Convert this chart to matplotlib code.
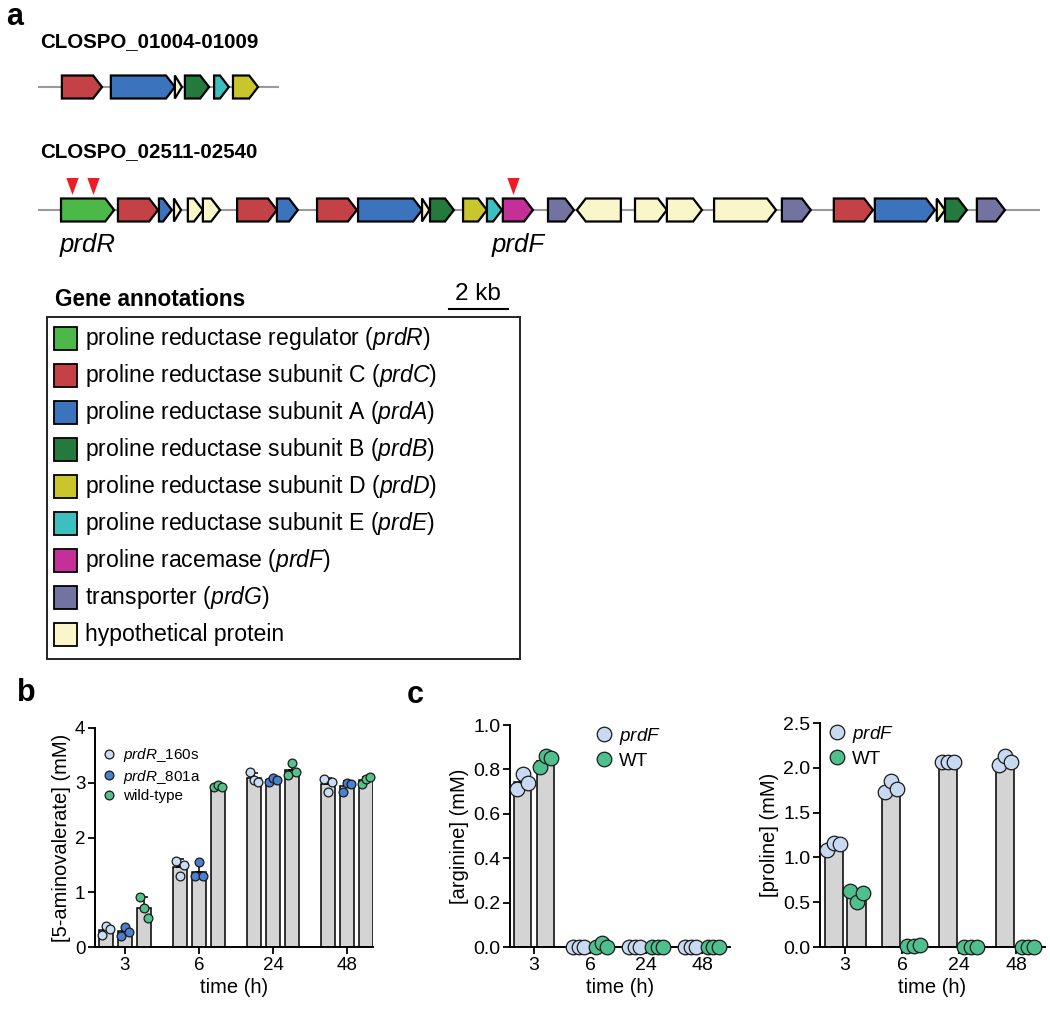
import numpy as np
import matplotlib
matplotlib.use("Agg")
import matplotlib.pyplot as plt
from matplotlib.patches import Polygon, Rectangle
from matplotlib.lines import Line2D

plt.rcParams['font.family'] = ['Liberation Sans', 'DejaVu Sans']
plt.rcParams['mathtext.fontset'] = 'custom'
plt.rcParams['mathtext.rm'] = 'Liberation Sans'
plt.rcParams['mathtext.it'] = 'Liberation Sans:italic'

# ---- gene clusters (kb from start of the drawn region) ----
gene_colors = {'prdR': '#4cb848', 'prdC': '#c44245', 'prdA': '#3b74bd', 'prdB': '#237a3c',
               'prdD': '#c8c62c', 'prdE': '#3cbfbf', 'prdF': '#c42f98', 'prdG': '#7273a0',
               'hyp': '#f9f7c9'}

c1_name = 'CLOSPO_01004-01009'
c1_len = 8.14
c1_start = [0.81, 2.47, 4.64, 4.98, 5.97, 6.61]
c1_end = [2.17, 4.64, 4.88, 5.80, 6.47, 7.46]
c1_type = ['prdC', 'prdA', 'hyp', 'prdB', 'prdE', 'prdD']
c1_strand = [1, 1, 1, 1, 1, 1]

c2_name = 'CLOSPO_02511-02540'
c2_len = 33.97
c2_start = [0.78, 2.71, 4.10, 4.61, 5.08, 5.59, 6.75, 8.10, 9.46, 10.85, 13.02, 13.29,
            14.41, 15.22, 15.76, 17.29, 18.27, 20.24, 21.32, 22.92, 25.22, 26.98, 28.37,
            30.47, 30.75, 31.83]
c2_end = [2.58, 4.07, 4.54, 4.85, 5.59, 6.17, 8.10, 8.81, 10.81, 13.02, 13.27, 14.10,
          15.22, 15.73, 16.78, 18.17, 19.76, 21.32, 22.51, 25.02, 26.20, 28.31, 30.41,
          30.75, 31.49, 32.78]
c2_type = ['prdR', 'prdC', 'prdA', 'hyp', 'hyp', 'hyp', 'prdC', 'prdA', 'prdC', 'prdA',
           'hyp', 'prdB', 'prdD', 'prdE', 'prdF', 'prdG', 'hyp', 'hyp', 'hyp', 'hyp',
           'prdG', 'prdC', 'prdA', 'hyp', 'prdB', 'prdG']
c2_strand = [1] * 16 + [-1] + [1] * 9
insert_sites = [1.15, 1.86, 16.10]

legend_types = ['prdR', 'prdC', 'prdA', 'prdB', 'prdD', 'prdE', 'prdF', 'prdG', 'hyp']
legend_labels = [r'proline reductase regulator ($\mathit{prdR}$)',
                 r'proline reductase subunit C ($\mathit{prdC}$)',
                 r'proline reductase subunit A ($\mathit{prdA}$)',
                 r'proline reductase subunit B ($\mathit{prdB}$)',
                 r'proline reductase subunit D ($\mathit{prdD}$)',
                 r'proline reductase subunit E ($\mathit{prdE}$)',
                 r'proline racemase ($\mathit{prdF}$)',
                 r'transporter ($\mathit{prdG}$)',
                 'hypothetical protein']

# ---- panel b: 5-aminovalerate (mM), 3 replicates per strain ----
times = ['3', '6', '24', '48']
b_160s = [[0.22, 0.38, 0.33], [1.57, 1.29, 1.50], [3.20, 3.05, 3.02], [3.07, 2.83, 3.01]]
b_801a = [[0.20, 0.37, 0.28], [1.29, 1.55, 1.29], [3.02, 3.08, 3.05], [2.83, 3.00, 2.98]]
b_wt = [[0.91, 0.71, 0.53], [2.92, 2.95, 2.93], [3.14, 3.36, 3.20], [2.98, 3.07, 3.10]]

# ---- panel c: arginine and proline (mM) ----
arg_prdF = [[0.71, 0.78, 0.74], [0, 0, 0], [0, 0, 0], [0, 0, 0]]
arg_wt = [[0.81, 0.86, 0.85], [0, 0.02, 0], [0, 0, 0], [0, 0, 0]]
pro_prdF = [[1.08, 1.16, 1.15], [1.73, 1.85, 1.76], [2.06, 2.06, 2.06], [2.03, 2.13, 2.06]]
pro_wt = [[0.63, 0.50, 0.60], [0.01, 0.01, 0.02], [0, 0, 0], [0, 0, 0]]

W, H = 1050, 1010
fig = plt.figure(figsize=(W / 100, H / 100), dpi=100)

# overlay axes in pixel coords for text and the legend box
ax0 = fig.add_axes([0, 0, 1, 1])
ax0.set_xlim(0, W)
ax0.set_ylim(H, 0)
ax0.axis('off')

# gene axes: x in kb, y in pixels
px0, px1 = 38, 1040
gax = fig.add_axes([px0 / W, 0, (px1 - px0) / W, 1])
gax.set_xlim(0, c2_len)
gax.set_ylim(H, 0)
gax.axis('off')


def draw_gene(ax, s, e, yc, color, strand, head=0.3, h=11.5):
    hl = min(head, e - s)
    if strand == 1:
        pts = [(s, yc - h), (e - hl, yc - h), (e, yc), (e - hl, yc + h), (s, yc + h)]
    else:
        pts = [(e, yc - h), (s + hl, yc - h), (s, yc), (s + hl, yc + h), (e, yc + h)]
    ax.add_patch(Polygon(pts, closed=True, facecolor=color, edgecolor='black',
                         lw=1.6, joinstyle='miter', zorder=3))


for length, starts, ends, types, strands, yc in [
        (c1_len, c1_start, c1_end, c1_type, c1_strand, 87),
        (c2_len, c2_start, c2_end, c2_type, c2_strand, 210)]:
    gax.plot([0, length], [yc, yc], color='#9a9a9a', lw=1.5, zorder=1)
    for s, e, t, st in zip(starts, ends, types, strands):
        draw_gene(gax, s, e, yc, gene_colors[t], st)

tri = [(-0.36, 0.5), (0.36, 0.5), (0, -0.5)]
gax.scatter(insert_sites, [186] * len(insert_sites), marker=tri, s=150,
            color='#ee1c24', lw=0, zorder=4)

for g in ['prdR', 'prdF']:
    i = c2_type.index(g)
    gax.text((c2_start[i] + c2_end[i]) / 2, 252, g, fontsize=18.5, style='italic',
             ha='center', va='baseline')

# scale bar 2 kb
gax.plot([13.93, 15.93], [309, 309], color='black', lw=1.5)
gax.text(14.93, 300, '2 kb', fontsize=17.5, ha='center', va='baseline')

ax0.text(6, 17, 'a', fontsize=22, fontweight='bold', va='center', ha='left')
ax0.text(40, 42, c1_name, fontsize=14.8, fontweight='bold', va='center')
ax0.text(40, 152, c2_name, fontsize=14.8, fontweight='bold', va='center')
ax0.text(55, 300, 'Gene annotations', fontsize=16.3, fontweight='bold', va='center')

ax0.add_patch(Rectangle((47, 317), 473, 342, fill=False, edgecolor='#222222', lw=1.4))
for i, (t, lab) in enumerate(zip(legend_types, legend_labels)):
    yc = 338 + i * 37.1
    ax0.add_patch(Rectangle((54, yc - 11.5), 23, 23, facecolor=gene_colors[t],
                            edgecolor='black', lw=1.3))
    ax0.text(85, yc, lab, fontsize=16.6, va='center', ha='left')

ax0.text(17, 693, 'b', fontsize=22, fontweight='bold', va='center', ha='left')
ax0.text(407, 695, 'c', fontsize=22, fontweight='bold', va='center', ha='left')


def style_axes(ax, tick_fs):
    for sp in ['top', 'right']:
        ax.spines[sp].set_visible(False)
    for sp in ['left', 'bottom']:
        ax.spines[sp].set_linewidth(1.4)
    ax.tick_params(width=1.3, length=5, labelsize=tick_fs, pad=2)


def bar_group(ax, series, colors, labels, offs, width, s, jitter):
    x = np.arange(len(times))
    handles = []
    for k, (vals, col, lab) in enumerate(zip(series, colors, labels)):
        arr = np.array(vals, dtype=float)
        means = arr.mean(axis=1)
        sds = arr.std(axis=1, ddof=1)
        pos = x + offs[k]
        ax.bar(pos, means, width=width, color='#d4d4d4', edgecolor='black', lw=1.1, zorder=2)
        ax.errorbar(pos, means, yerr=[np.zeros_like(sds), sds], fmt='none', ecolor='black',
                    elinewidth=1.1, capsize=3, capthick=1.1, zorder=3)
        for j in range(len(times)):
            ax.scatter(pos[j] + np.array([-jitter, 0, jitter]), arr[j], s=s, color=col,
                       edgecolor='#1a1a1a', lw=0.9, zorder=5, clip_on=False)
        handles.append(Line2D([], [], ls='none', marker='o', markersize=np.sqrt(s),
                              markerfacecolor=col, markeredgecolor='#1a1a1a', markeredgewidth=0.9,
                              label=lab))
    ax.set_xticks(x, times)
    return handles


# panel b
bax = fig.add_axes([95 / W, 63 / H, 278 / W, 219 / H])
h = bar_group(bax, [b_160s, b_801a, b_wt], ['#c9ddf5', '#4b7fcf', '#52c28a'],
              [r'$\mathit{prdR}$_160s', r'$\mathit{prdR}$_801a', 'wild-type'],
              [-0.257, 0, 0.257], 0.19, 40, 0.055)
bax.set_xlim(-0.405, 3.35)
bax.set_ylim(0, 4)
bax.set_yticks([0, 1, 2, 3, 4])
style_axes(bax, 13.5)
bax.set_ylabel('[5-aminovalerate] (mM)', fontsize=14.5, labelpad=3)
bax.set_xlabel('time (h)', fontsize=14.5, labelpad=3)
bax.legend(handles=h, loc='upper left', bbox_to_anchor=(-0.005, 0.945), frameon=False,
           fontsize=11, handletextpad=0.35, labelspacing=0.22, borderaxespad=0, handlelength=1.2)

# panel c, arginine
cax1 = fig.add_axes([510 / W, 63 / H, 220 / W, 222 / H])
h = bar_group(cax1, [arg_prdF, arg_wt], ['#c8daf1', '#4fc08d'],
              [r'$\mathit{prdF}$', 'WT'], [-0.205, 0.205], 0.30, 110, 0.1)
cax1.set_xlim(-0.43, 3.5)
cax1.set_ylim(0, 1.0)
cax1.set_yticks(np.arange(0, 1.01, 0.2))
cax1.yaxis.set_major_formatter('{x:.1f}')
style_axes(cax1, 14)
cax1.set_ylabel('[arginine] (mM)', fontsize=14.5, labelpad=3)
cax1.set_xlabel('time (h)', fontsize=14.5, labelpad=3)
cax1.legend(handles=h, loc='upper left', bbox_to_anchor=(0.34, 1.03), frameon=False,
            fontsize=13.5, handletextpad=0.2, labelspacing=0.3, borderaxespad=0, handlelength=1.2)

# panel c, proline
cax2 = fig.add_axes([820 / W, 63 / H, 225 / W, 224 / H])
h = bar_group(cax2, [pro_prdF, pro_wt], ['#c8daf1', '#4fc08d'],
              [r'$\mathit{prdF}$', 'WT'], [-0.2, 0.2], 0.32, 110, 0.11)
cax2.set_xlim(-0.44, 3.5)
cax2.set_ylim(0, 2.5)
cax2.set_yticks(np.arange(0, 2.51, 0.5))
cax2.yaxis.set_major_formatter('{x:.1f}')
style_axes(cax2, 14)
cax2.set_ylabel('[proline] (mM)', fontsize=14.5, labelpad=3)
cax2.set_xlabel('time (h)', fontsize=14.5, labelpad=3)
cax2.legend(handles=h, loc='upper left', bbox_to_anchor=(-0.01, 1.03), frameon=False,
            fontsize=13.5, handletextpad=0.2, labelspacing=0.3, borderaxespad=0, handlelength=1.2)

fig.savefig('out.png', dpi=100)
